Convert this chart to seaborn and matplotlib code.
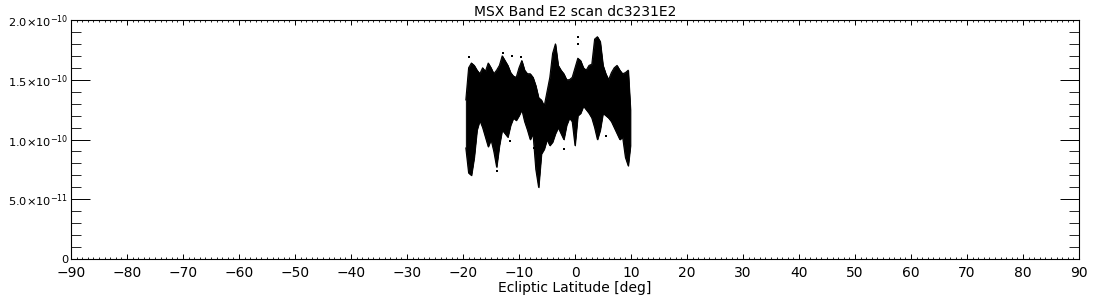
import matplotlib
matplotlib.use("Agg")
import matplotlib.pyplot as plt
from matplotlib.ticker import MultipleLocator
import seaborn as sns
import pandas as pd

# ---- data (envelope of the scan) ----
latitude = [-19.5, -19.0, -18.5, -18.0, -17.5, -17.0, -16.5, -16.0, -15.5, -15.0,
            -14.5, -14.0, -13.5, -13.0, -12.5, -12.0, -11.5, -11.0, -10.5, -10.0,
            -9.5, -9.0, -8.5, -8.0, -7.5, -7.0, -6.5, -6.0, -5.5, -5.0,
            -4.5, -4.0, -3.5, -3.0, -2.5, -2.0, -1.5, -1.0, -0.5, 0.0,
            0.5, 1.0, 1.5, 2.0, 2.5, 3.0, 3.5, 4.0, 4.5, 5.0,
            5.5, 6.0, 6.5, 7.0, 7.5, 8.0, 8.5, 9.0, 9.5, 9.9]
flux_high = [1.33, 1.60, 1.64, 1.62, 1.58, 1.55, 1.60, 1.57, 1.64, 1.60,
             1.55, 1.58, 1.62, 1.70, 1.66, 1.62, 1.56, 1.53, 1.52, 1.60,
             1.66, 1.58, 1.55, 1.55, 1.52, 1.45, 1.35, 1.33, 1.28, 1.40,
             1.52, 1.72, 1.80, 1.62, 1.58, 1.55, 1.50, 1.50, 1.52, 1.60,
             1.68, 1.66, 1.60, 1.58, 1.62, 1.63, 1.84, 1.86, 1.82, 1.62,
             1.55, 1.50, 1.56, 1.60, 1.62, 1.58, 1.55, 1.56, 1.58, 1.25]
flux_low = [0.93, 0.72, 0.70, 0.85, 1.08, 1.16, 1.10, 1.02, 0.94, 1.00,
            0.90, 0.77, 0.95, 1.08, 1.05, 1.02, 1.12, 1.18, 1.16, 1.20,
            1.25, 1.15, 1.08, 1.00, 1.05, 0.75, 0.60, 0.88, 0.92, 1.00,
            0.95, 0.98, 1.05, 1.10, 1.05, 1.00, 1.12, 1.18, 1.15, 0.95,
            1.20, 1.22, 1.28, 1.25, 1.22, 1.18, 1.10, 1.00, 1.08, 1.22,
            1.20, 1.18, 1.15, 1.10, 1.05, 1.00, 1.02, 0.85, 0.78, 0.95]
# isolated samples outside the dense band
outlier_lat = [-19.0, -12.8, -11.2, -9.6, 0.6, 0.6, -14.0, -11.6, -7.3, -1.9, 5.6]
outlier_flux = [1.69, 1.72, 1.70, 1.69, 1.86, 1.80, 0.74, 0.99, 0.93, 0.92, 1.03]

ytick_values = [0, 5.0e-11, 1.0e-10, 1.5e-10, 2.0e-10]
ytick_labels = ["0", r"5.0$\times$10$^{-11}$", r"1.0$\times$10$^{-10}$",
                r"1.5$\times$10$^{-10}$", r"2.0$\times$10$^{-10}$"]
xtick_values = list(range(-90, 91, 10))

title = "MSX Band E2 scan dc3231E2"
xlabel = "Ecliptic Latitude [deg]"

scale = 1e-10
df = pd.DataFrame({"lat": latitude,
                   "high": [v * scale for v in flux_high],
                   "low": [v * scale for v in flux_low]})
dfo = pd.DataFrame({"lat": outlier_lat, "flux": [v * scale for v in outlier_flux]})

sns.set_style("white")
plt.rcParams["font.family"] = ["DejaVu Sans"]
plt.rcParams["mathtext.fontset"] = "dejavusans"

fig = plt.figure(figsize=(11, 3), dpi=100)
ax = fig.add_axes([71 / 1100, 41 / 300, 1008 / 1100, 239 / 300])

ax.fill_between(df["lat"], df["low"], df["high"], color="black", linewidth=0.6,
                edgecolor="black")
sns.lineplot(data=df, x="lat", y="high", ax=ax, color="black", linewidth=0.8)
sns.lineplot(data=df, x="lat", y="low", ax=ax, color="black", linewidth=0.8)
sns.scatterplot(data=dfo, x="lat", y="flux", ax=ax, color="black", marker="s",
                s=3, linewidth=0)

ax.set_xlim(-90, 90)
ax.set_ylim(0, 2.0e-10)
ax.set_xticks(xtick_values)
ax.set_xticklabels([str(v).replace("-", "\u2212") for v in xtick_values])
ax.xaxis.set_minor_locator(MultipleLocator(1))
ax.set_yticks(ytick_values)
ax.set_yticklabels(ytick_labels)
ax.yaxis.set_minor_locator(MultipleLocator(1e-11))

ax.tick_params(axis="x", which="major", direction="in", length=3.8, width=0.7,
               top=True, bottom=True, pad=5, labelsize=10, colors="black")
ax.tick_params(axis="x", which="minor", direction="in", length=1.6, width=0.7,
               top=True, bottom=True)
ax.tick_params(axis="y", which="major", direction="in", length=13.5, width=0.7,
               left=True, right=True, pad=2, labelsize=8.2, colors="black")
ax.tick_params(axis="y", which="minor", direction="in", length=7, width=0.7,
               left=True, right=True)

for sp in ax.spines.values():
    sp.set_visible(True)
    sp.set_color("black")
    sp.set_linewidth(0.8)

ax.set_xlabel(xlabel, fontsize=10, labelpad=1, color="black")
ax.set_ylabel("")
ax.set_title(title, fontsize=10, pad=3, color="black")

fig.savefig("out.png", dpi=100, facecolor="white")
